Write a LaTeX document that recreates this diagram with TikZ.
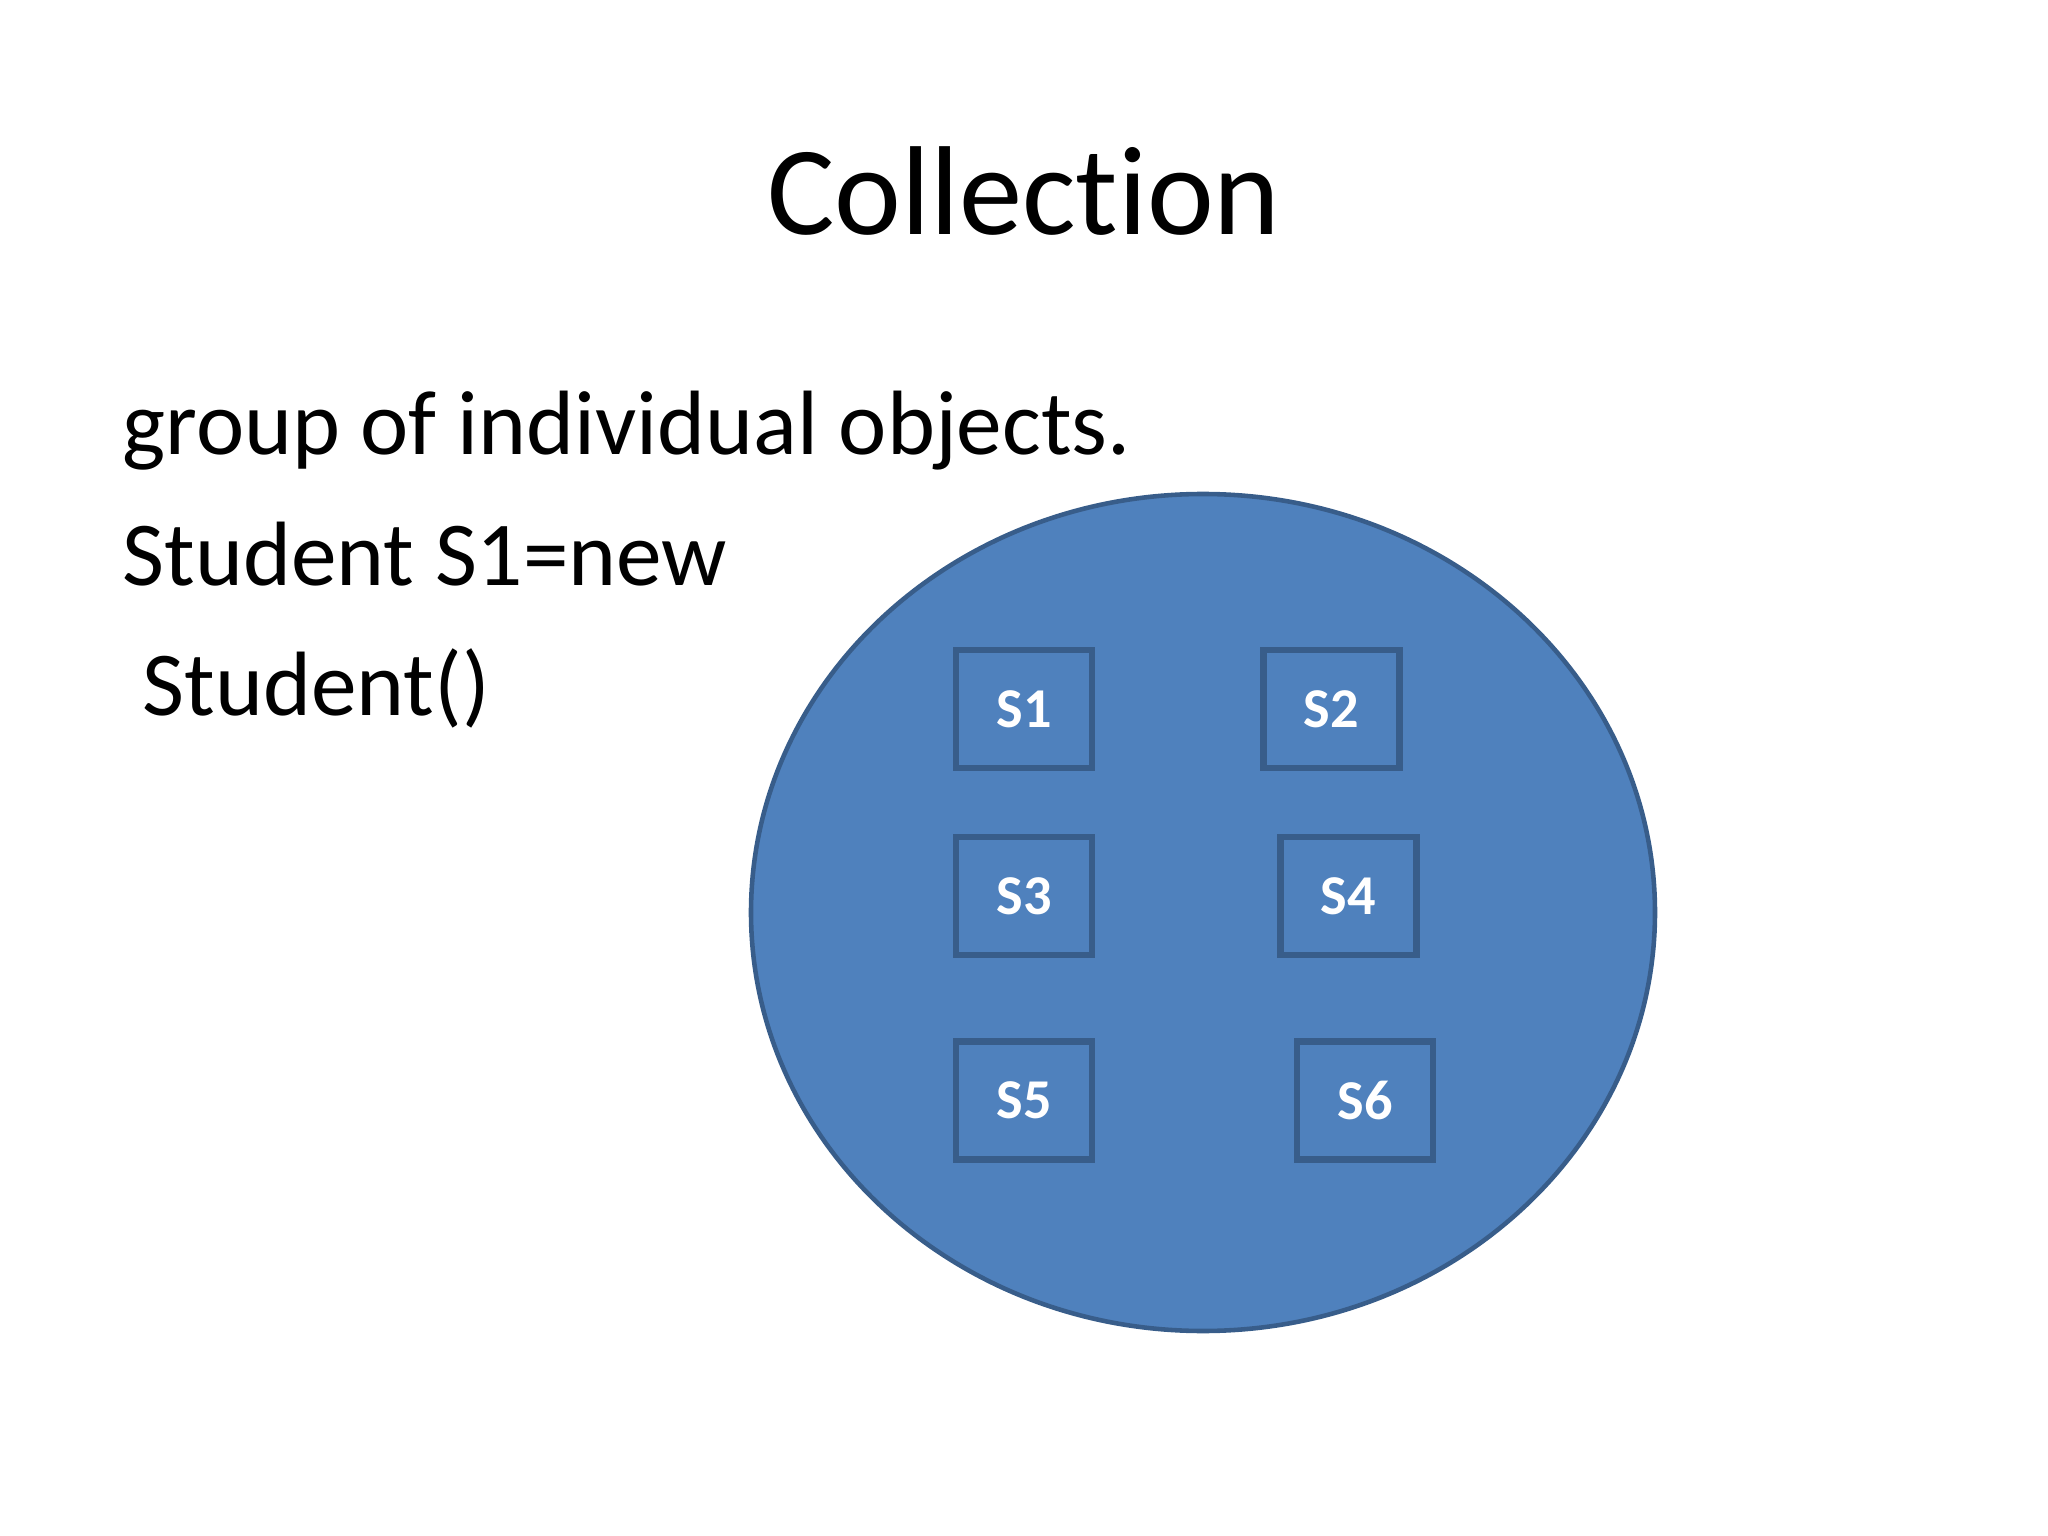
\documentclass[tikz,border=0pt]{standalone}
\usepackage{fontspec}
\setmainfont{Carlito}[Ligatures=NoCommon]
\usetikzlibrary{shapes.geometric}

\definecolor{setblue}{RGB}{79,129,189}
\definecolor{setedge}{RGB}{56,93,138}

\tikzset{
  obj/.style={draw=setedge, fill=setblue, line width=1.8pt, minimum width=1.36cm,
    minimum height=1.18cm, inner sep=0pt, text=white,
    font=\fontsize{16}{19}\selectfont\bfseries},
  textline/.style={anchor=base west, inner sep=0pt, font=\fontsize{26}{31}\selectfont}
}

\begin{document}
\begin{tikzpicture}
\useasboundingbox (0,0) rectangle (20.48,-15.36);

\node [anchor=base, inner sep=0pt, font=\fontsize{36}{43}\selectfont] (title) at (10.24,-2.35) {Collection};

\node [textline] (line1) at (1.22,-4.55) {group of individual objects.};
\node [textline] (line2) at (1.22,-5.86) {Student S1=new};
\node [textline] (line3) at (1.42,-7.16) {Student()};

\node [ellipse, draw=setedge, fill=setblue, line width=1.3pt, minimum width=9.04cm,
  minimum height=8.37cm, inner sep=0pt] (coll) at (12.03,-9.125) {};

\foreach \name/\x/\y in {S1/10.24/-7.09, S2/13.315/-7.09, S3/10.24/-8.96,
  S4/13.485/-8.96, S5/10.24/-11.005, S6/13.65/-11.005}
{
  \node [obj] (\name) at (\x,\y) {\name};
}
\end{tikzpicture}
\end{document}
